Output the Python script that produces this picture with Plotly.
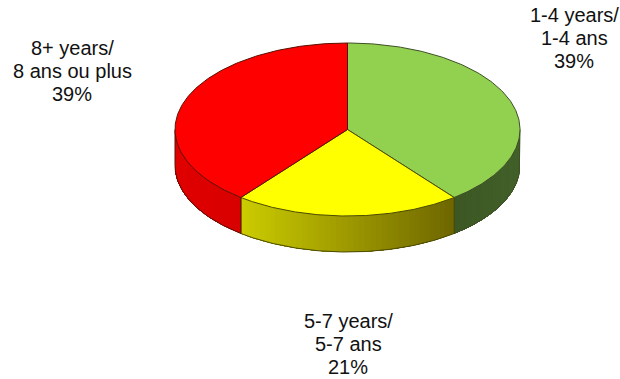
import numpy as np
import plotly.graph_objects as go

categories_en = ["1-4 years/", "5-7 years/", "8+ years/"]
categories_fr = ["1-4 ans", "5-7 ans", "8 ans ou plus"]
values = [39, 21, 39]

top_colors = ["#92d050", "#ffff00", "#ff0000"]
side_left = ["#3c5723", "#cccc00", "#e00000"]
side_right = ["#42602a", "#6e6600", "#d80000"]
outline = ["#3f4f25", "#4a4a00", "#5a1000"]

W, H = 620, 379
CX, CY, RX, RY, DEPTH = 347.5, 129.5, 172.5, 86.5, 36
LABEL_POS = [(574, 15), (348, 321), (72, 48)]
LINE_GAP = 23


def px(theta):
    return CX + RX * np.sin(theta)


def py(theta):
    return CY - RY * np.cos(theta)


fig = go.Figure()


def poly(xs, ys, fill, line=None, width=1.0):
    fig.add_trace(go.Scatter(
        x=xs, y=ys, mode="lines", fill="toself", fillcolor=fill,
        line=dict(color=line or fill, width=width),
        hoverinfo="skip", showlegend=False))


def mix(a, b, t):
    ca = [int(a[i:i + 2], 16) for i in (1, 3, 5)]
    cb = [int(b[i:i + 2], 16) for i in (1, 3, 5)]
    return "rgb(%d,%d,%d)" % tuple(round(p + (q - p) * t) for p, q in zip(ca, cb))


edges = np.cumsum([0] + values) / sum(values) * 2 * np.pi

# side walls (only the front half of the rim is visible);
# bands run left to right, each covering the seam of the one before it
for i in range(len(values)):
    lo, hi = max(edges[i], np.pi / 2), min(edges[i + 1], 3 * np.pi / 2)
    if hi <= lo:
        continue
    steps = np.linspace(lo, hi, 41)
    x0, x1 = px(steps).min(), px(steps).max()
    pairs = list(zip(steps[:-1], steps[1:]))
    # sin(theta) falls with theta on this half, so paint from the right end
    for j, (a, b) in enumerate(pairs):
        seg = np.linspace(a, hi, 60)
        xs = np.r_[px(seg), px(seg)[::-1]]
        ys = np.r_[py(seg), py(seg)[::-1] + DEPTH]
        t = ((px(a) + px(b)) / 2 - x0) / max(x1 - x0, 1)
        fig.add_trace(go.Scatter(
            x=xs, y=ys, mode="none", fill="toself",
            fillcolor=mix(side_left[i], side_right[i], t),
            hoverinfo="skip", showlegend=False))
    rim = np.linspace(lo, hi, 120)
    fig.add_trace(go.Scatter(
        x=np.r_[px(rim)[0], px(rim), px(rim)[-1]],
        y=np.r_[py(rim)[0], py(rim) + DEPTH, py(rim)[-1]],
        mode="lines", line=dict(color=outline[i], width=1),
        hoverinfo="skip", showlegend=False))

# top face
for i in range(len(values)):
    arc = np.linspace(edges[i], edges[i + 1], 160)
    poly(np.r_[CX, px(arc), CX], np.r_[CY, py(arc), CY],
         top_colors[i], outline[i], 1)

# labels
for en, fr, v, (lx, ly) in zip(categories_en, categories_fr, values, LABEL_POS):
    for k, txt in enumerate([en, fr, f"{v}%"]):
        fig.add_annotation(
            x=lx, y=ly + k * LINE_GAP, text=txt, showarrow=False,
            xanchor="center", yanchor="middle",
            font=dict(family="Liberation Sans, Arial, sans-serif", size=20, color="#111111"))

fig.update_layout(
    width=W, height=H, margin=dict(l=0, r=0, t=0, b=0),
    paper_bgcolor="white", plot_bgcolor="white", showlegend=False,
    xaxis=dict(range=[0, W], visible=False, fixedrange=True),
    yaxis=dict(range=[H, 0], visible=False, fixedrange=True),
)
fig.write_html("out.html", config={"displayModeBar": False},
               post_script="document.body.style.margin='0';document.body.style.overflow='hidden';")
